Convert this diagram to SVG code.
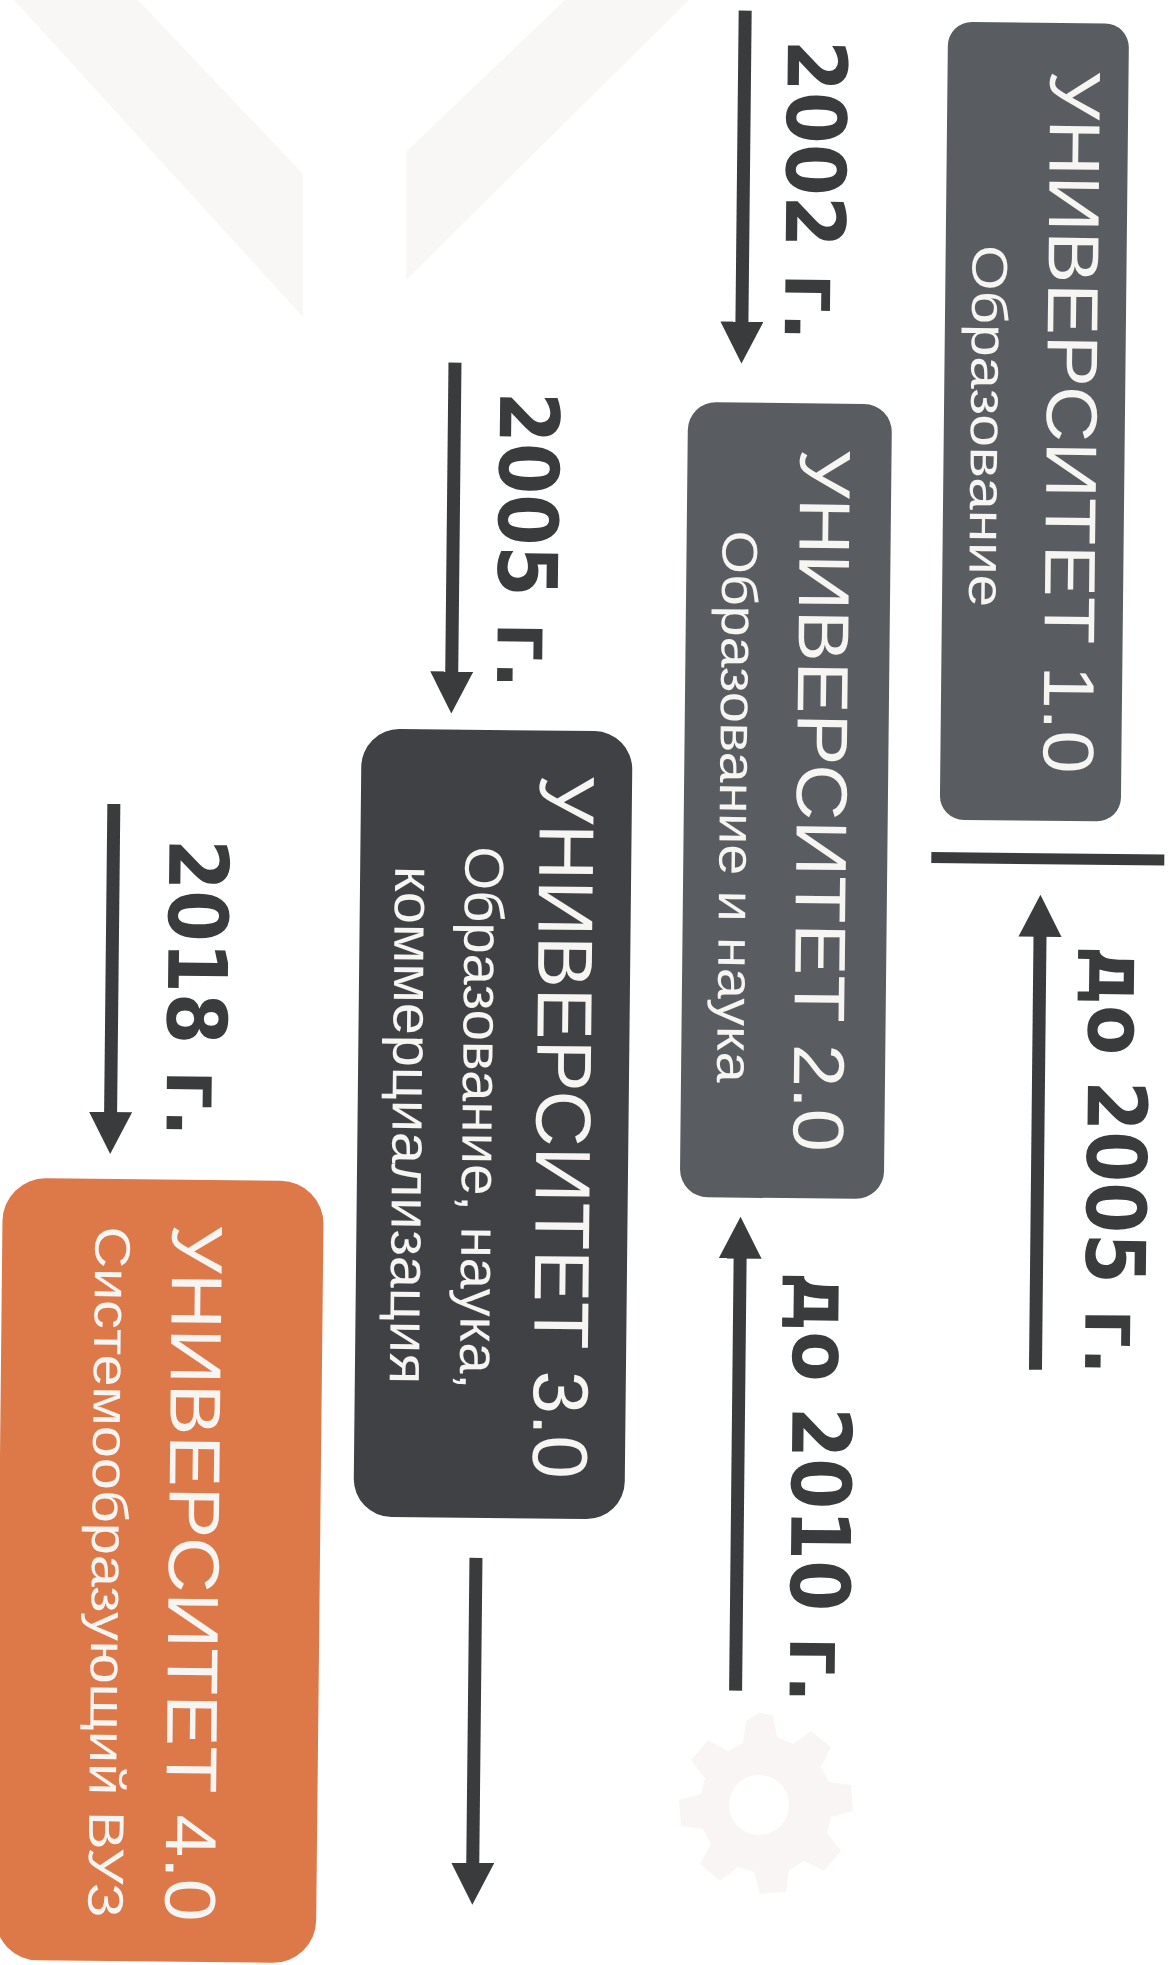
<svg xmlns="http://www.w3.org/2000/svg" width="1170" height="1965" viewBox="0 0 1170 1965">
  <style>
    .box-gray { fill: #595c61; }
    .box-dark { fill: #404144; }
    .box-orange { fill: #dd7849; }
    .title { font-family: "Liberation Sans", Arial, sans-serif; fill: #f7f5f2; text-anchor: middle; }
    .sub { font-family: "Liberation Sans", Arial, sans-serif; fill: #f7f5f2; text-anchor: middle; }
    .label { font-family: "DejaVu Sans", "Liberation Sans", sans-serif; font-weight: bold; fill: #3a3b3d; text-anchor: middle; }
    .conn { stroke: #3a3b3d; stroke-width: 13; fill: none; }
    .wm { fill: #f8f7f6; }
    .wm2 { fill: #f9f5f4; }
  </style>
  <defs>
    <marker id="head" markerUnits="userSpaceOnUse" markerWidth="44" markerHeight="44" refX="1" refY="21.5" orient="auto">
      <path d="M0,0 L42,21.5 L0,43 Z" fill="#3a3b3d"/>
    </marker>
  </defs>
  <rect x="0" y="0" width="1170" height="1965" fill="#ffffff"/>
  <g id="watermarks">
    <polygon class="wm" points="14,0 138,0 303,174 303,317"/>
    <polygon class="wm" points="565,0 689,0 406,280 406,152"/>
    <path class="wm2" fill-rule="evenodd" d="M759,1713 l14,2 4,22 16,7 18,-13 20,16 -10,20 8,15 22,3 2,26 -22,6 -4,16 14,18 -17,20 -20,-10 -15,9 -3,22 -26,2 -6,-22 -16,-5 -18,14 -20,-17 11,-20 -8,-15 -22,-3 -2,-26 22,-6 4,-16 -14,-18 17,-20 20,11 15,-8 3,-22 Z M759,1775 a30,30 0 1 0 0.1,0 Z"/>
  </g>
  <g transform="rotate(0.6 585 982)">
    <g id="connectors">
      <line class="conn" x1="735" y1="9" x2="735" y2="321" marker-end="url(#head)"/>
      <line class="conn" x1="448.5" y1="364" x2="448.5" y2="674" marker-end="url(#head)"/>
      <line class="conn" x1="112" y1="809" x2="112" y2="1118" marker-end="url(#head)"/>
      <line class="conn" x1="482" y1="1559" x2="482" y2="1865" marker-end="url(#head)"/>
      <line class="conn" x1="1039.5" y1="1365" x2="1039.5" y2="931" marker-end="url(#head)"/>
      <line class="conn" x1="743" y1="1689" x2="743" y2="1256" marker-end="url(#head)"/>
      <line x1="930" y1="854" x2="1163" y2="854" stroke="#3a3b3d" stroke-width="11"/>
    </g>
    <g id="label-2002"><text class="label" font-size="82" transform="translate(778,188) rotate(90)" textLength="301" lengthAdjust="spacingAndGlyphs">2002 г.</text></g>
    <g id="label-2005"><text class="label" font-size="82" transform="translate(494,541) rotate(90)" textLength="297" lengthAdjust="spacingAndGlyphs">2005 г.</text></g>
    <g id="label-2018"><text class="label" font-size="82" transform="translate(168,992) rotate(90)" textLength="298" lengthAdjust="spacingAndGlyphs">2018 г.</text></g>
    <g id="label-do2005"><text class="label" font-size="82" transform="translate(1089,1155) rotate(90)" textLength="429" lengthAdjust="spacingAndGlyphs">до 2005 г.</text></g>
    <g id="label-do2010"><text class="label" font-size="82" transform="translate(797,1485) rotate(90)" textLength="431" lengthAdjust="spacingAndGlyphs">до 2010 г.</text></g>

    <g id="node-u1">
      <rect class="box-gray" x="938" y="18" width="181" height="798" rx="24"/>
      <text class="title" font-size="72" transform="translate(1041,417) rotate(90)" textLength="703" lengthAdjust="spacingAndGlyphs">УНИВЕРСИТЕТ 1.0</text>
      <text class="sub" font-size="50" transform="translate(965,422) rotate(90)" textLength="362" lengthAdjust="spacingAndGlyphs">Образование</text>
    </g>
    <g id="node-u2">
      <rect class="box-gray" x="682" y="401" width="204" height="795" rx="28"/>
      <text class="title" font-size="72" transform="translate(795,798) rotate(90)" textLength="703" lengthAdjust="spacingAndGlyphs">УНИВЕРСИТЕТ 2.0</text>
      <text class="sub" font-size="50" transform="translate(718,805) rotate(90)" textLength="552" lengthAdjust="spacingAndGlyphs">Образование и наука</text>
    </g>
    <g id="node-u3">
      <rect class="box-dark" x="359" y="731" width="271" height="788" rx="38"/>
      <text class="title" font-size="78" transform="translate(538,1127) rotate(90)" textLength="704" lengthAdjust="spacingAndGlyphs">УНИВЕРСИТЕТ 3.0</text>
      <text class="sub" font-size="55" transform="translate(464,1119) rotate(90)" textLength="543" lengthAdjust="spacingAndGlyphs">Образование, наука,</text>
      <text class="sub" font-size="55" transform="translate(394,1127) rotate(90)" textLength="518" lengthAdjust="spacingAndGlyphs">коммерциализация</text>
    </g>
    <g id="node-u4">
      <rect class="box-orange" x="5" y="1184" width="321" height="782" rx="43"/>
      <text class="title" font-size="72" fill="#fdf3e8" transform="translate(175,1577) rotate(90)" textLength="697" lengthAdjust="spacingAndGlyphs">УНИВЕРСИТЕТ 4.0</text>
      <text class="sub" font-size="50" transform="translate(98,1577) rotate(90)" textLength="691" lengthAdjust="spacingAndGlyphs">Системообразующий ВУЗ</text>
    </g>
  </g>
</svg>
